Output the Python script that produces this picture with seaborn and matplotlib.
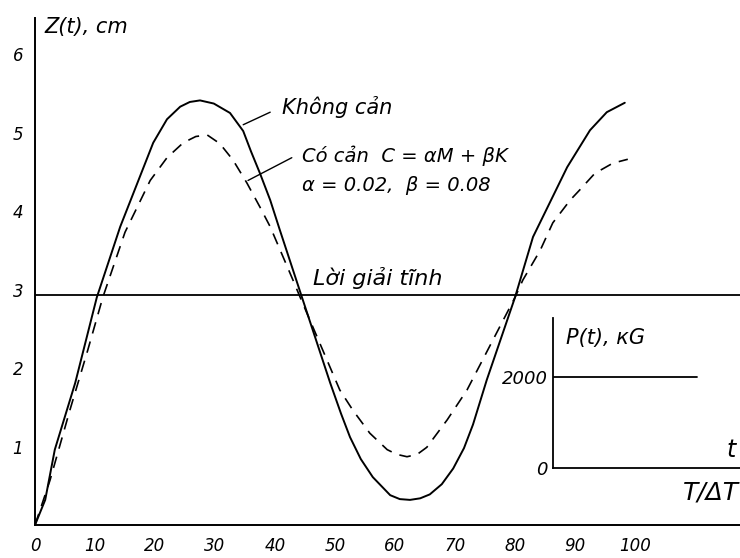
import numpy as np
import pandas as pd
import seaborn as sns
import matplotlib.pyplot as plt

# Données (T/ΔT, Z en cm)
t_khong_can = [0, 1.7, 3.3, 6.7, 10.3, 14.2, 19.7, 22.0, 24.2, 25.8, 27.5, 29.8, 32.5, 34.7,
               36.0, 37.5, 39.2, 40.8, 44.5, 49.2, 51.0, 52.5, 54.3, 56.3, 59.2, 60.8, 62.5,
               64.2, 65.8, 67.8, 69.7, 71.5, 73.0, 75.3, 80.0, 83.0, 88.7, 92.5, 95.3, 98.3]
z_khong_can = [0, 0.32, 0.96, 1.81, 2.90, 3.80, 4.87, 5.17, 5.33, 5.39, 5.41, 5.37, 5.25, 5.02,
               4.76, 4.48, 4.14, 3.76, 2.90, 1.81, 1.42, 1.12, 0.84, 0.61, 0.38, 0.33, 0.32,
               0.34, 0.39, 0.52, 0.72, 0.98, 1.28, 1.85, 2.90, 3.67, 4.56, 5.03, 5.26, 5.38]

t_co_can = [0, 2.5, 5.8, 8.8, 11.3, 15.0, 19.2, 22.0, 24.7, 26.8, 28.7, 30.8, 33.0, 35.3,
            37.5, 39.2, 43.0, 44.2, 50.8, 53.0, 55.8, 58.7, 60.3, 62.0, 63.7, 65.3, 68.7,
            72.0, 80.0, 81.3, 84.2, 86.3, 89.2, 90.8, 93.3, 96.3, 98.8]
z_co_can = [0, 0.57, 1.46, 2.23, 2.90, 3.73, 4.39, 4.68, 4.87, 4.95, 4.97, 4.86, 4.65, 4.36,
            4.05, 3.80, 3.12, 2.90, 1.72, 1.46, 1.17, 0.96, 0.90, 0.87, 0.90, 0.99, 1.34,
            1.72, 2.90, 3.12, 3.50, 3.85, 4.14, 4.27, 4.48, 4.61, 4.66]

loi_giai_tinh = 2.93

# Charge P(t)
p_t = [0, 0.77]
p_val = [2000, 2000]

x_ticks = list(range(0, 101, 10))
y_ticks = [1, 2, 3, 4, 5, 6]

sns.set_theme(style="white")
plt.rcParams['font.family'] = ['DejaVu Sans']
plt.rcParams['text.color'] = 'black'

fig = plt.figure(figsize=(7.4, 5.58), dpi=100)
ax = fig.add_axes([35 / 740, 1 - 525 / 558, (740 - 35) / 740, (525 - 18) / 558])

sns.lineplot(x=t_khong_can, y=z_khong_can, ax=ax, color='black', linewidth=1.4,
             sort=False, estimator=None)
sns.lineplot(x=t_co_can, y=z_co_can, ax=ax, color='black', linewidth=1.2,
             sort=False, estimator=None, linestyle=(0, (7, 5)))
ax.axhline(loi_giai_tinh, color='black', linewidth=1.3)

ax.set_xlim(0, 117.5)
ax.set_ylim(0, 6.46)
ax.set_xticks(x_ticks)
ax.set_yticks(y_ticks)
ax.set_xticklabels([str(v) for v in x_ticks], fontstyle='italic', fontsize=12)
ax.set_yticklabels([str(v) for v in y_ticks], fontstyle='italic', fontsize=12)
ax.tick_params(axis='both', direction='inout', length=5, width=1, colors='black', pad=6)
for s in ['top', 'right']:
    ax.spines[s].set_visible(False)
for s in ['left', 'bottom']:
    ax.spines[s].set_color('black')
    ax.spines[s].set_linewidth(1.4)
ax.set_facecolor('white')

fig.text(44 / 740, 1 - 27 / 558, "Z(t), cm", fontsize=15, fontstyle='italic', va='center')

ax.text(41.2, 5.32, "Không cản", fontsize=15, fontstyle='italic', va='center')
ax.plot([34.7, 39.2], [5.10, 5.26], color='black', linewidth=1)
ax.text(44.5, 4.71, "Có cản  C = αM + βK", fontsize=14, fontstyle='italic', va='center')
ax.text(44.5, 4.33, "α = 0.02,  β = 0.08", fontsize=14, fontstyle='italic', va='center')
ax.plot([35.5, 42.8], [4.39, 4.68], color='black', linewidth=1)
ax.text(46.3, 3.15, "Lời giải tĩnh", fontsize=16, fontstyle='italic', va='center')
ax.text(117.4, 0.42, "T/ΔT", fontsize=18, fontstyle='italic', va='center', ha='right')

# Petit graphique de la charge P(t)
ax2 = fig.add_axes([553 / 740, 1 - 468 / 558, (740 - 553) / 740, (468 - 318) / 558])
sns.lineplot(x=p_t, y=p_val, ax=ax2, color='black', linewidth=1.3)
ax2.set_xlim(0, 1)
ax2.set_ylim(0, 3300)
ax2.set_xticks([])
ax2.set_yticks([0, 2000])
ax2.set_yticklabels(["0", "2000"], fontstyle='italic', fontsize=13)
ax2.tick_params(axis='y', length=0, pad=4, colors='black')
for s in ['top', 'right']:
    ax2.spines[s].set_visible(False)
for s in ['left', 'bottom']:
    ax2.spines[s].set_color('black')
    ax2.spines[s].set_linewidth(1.3)
ax2.patch.set_alpha(0)
ax2.text(0.07, 2850, "P(t), кG", fontsize=15, fontstyle='italic', va='center')
ax2.text(0.93, 400, "t", fontsize=17, fontstyle='italic', va='center')

fig.savefig("out.png", dpi=100)
